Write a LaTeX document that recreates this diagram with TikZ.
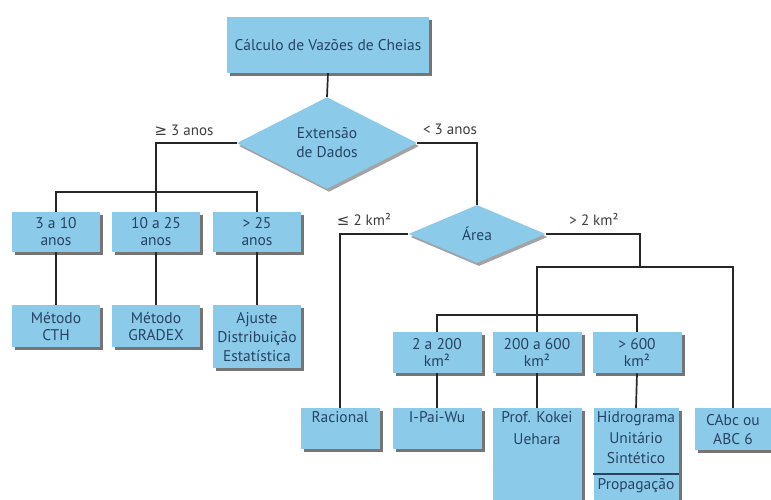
\documentclass[tikz,border=0pt]{standalone}
\usepackage{fontspec}
\setmainfont{PT Sans}
\newfontfamily\symfont{DejaVu Sans}
\usepackage{tikz}
\usetikzlibrary{shapes.geometric,shadows}
\definecolor{boxblue}{RGB}{140,202,234}
\definecolor{txtblue}{RGB}{38,68,98}
\definecolor{lblgray}{RGB}{60,60,60}

\begin{document}
\begin{tikzpicture}[x=1pt, y=-1pt,
  box/.style={rectangle, fill=boxblue, text=txtblue, align=center, inner sep=3pt,
    font=\fontsize{15.5}{17}\selectfont,
    drop shadow={shadow xshift=3pt, shadow yshift=-3pt, fill=black!60, opacity=.9}},
  decision/.style={diamond, fill=boxblue, text=txtblue, align=center, inner sep=0pt,
    font=\fontsize{15.5}{19}\selectfont,
    drop shadow={shadow xshift=2pt, shadow yshift=-3pt, fill=black!45, opacity=.8}},
  lbl/.style={text=lblgray, font=\fontsize{15}{17}\selectfont},
  link/.style={draw=black!85, line width=1.7pt}]

\useasboundingbox (0,0) rectangle (771,500);

% topo
\node[box, minimum width=202pt, minimum height=56pt] (calc) at (328,45) {Cálculo de Vazões de Cheias};
\node[decision, minimum width=180pt, minimum height=77pt] (ext) at (327,143) {Extensão\\de Dados};

% ramo >= 3 anos
\node[box, minimum width=88pt, minimum height=40pt] (a3a10) at (56,232) {3 a 10\\anos};
\node[box, minimum width=88pt, minimum height=40pt] (a10a25) at (156,232) {10 a 25\\anos};
\node[box, minimum width=88pt, minimum height=40pt] (amais25) at (257,232) {> 25\\anos};

\node[box, minimum width=88pt, minimum height=42pt, anchor=north] (cth) at (56,305) {Método\\CTH};
\node[box, minimum width=88pt, minimum height=42pt, anchor=north] (gradex) at (156,305) {Método\\GRADEX};
\node[box, minimum width=88pt, minimum height=63pt, anchor=north] (ajuste) at (257,305) {Ajuste\\[2pt]Distribuição\\[2pt]Estatística};

% ramo < 3 anos
\node[decision, minimum width=137pt, minimum height=58pt] (area) at (477,234) {Área};

\node[box, minimum width=89pt, minimum height=41pt, anchor=north] (a2a200) at (437,332) {2 a 200\\km²};
\node[box, minimum width=89pt, minimum height=41pt, anchor=north] (a200a600) at (537,332) {200 a 600\\km²};
\node[box, minimum width=89pt, minimum height=41pt, anchor=north] (amais600) at (637,332) {> 600\\km²};

\node[box, minimum width=79pt, text depth=24pt, anchor=north] (racional) at (340,408) {Racional};
\node[box, minimum width=89pt, text depth=24pt, anchor=north] (ipaiwu) at (437,408) {I-Pai-Wu};
\node[box, minimum width=89pt, text depth=75pt, anchor=north] (kokei) at (537,408) {Prof. Kokei\\[5pt]Uehara};
\node[box, minimum width=85pt, text depth=30pt, anchor=north] (hidro) at (636,408) {Hidrograma\\[4pt]Unitário\\[3pt]Sintético\\[9pt]Propagação};
\node[box, minimum width=77pt, minimum height=42pt, anchor=north] (cabc) at (733,408) {CAbc ou\\[2pt]ABC 6};

\coordinate (sep) at (636,474);
\draw[txtblue, line width=1.3pt] (hidro.west |- sep) -- (hidro.east |- sep);

% ligacoes
\coordinate (barL) at (156,192);
\coordinate (barR) at (640,267);
\coordinate (barM) at (537,315);

\draw[link] (calc.south) -- (ext.north);
\draw[link] (ext.west) -| (barL);
\draw[link] (a3a10.north) |- (barL) -| (amais25.north);
\draw[link] (barL) -- (a10a25.north);
\draw[link] (a3a10.south) -- (cth.north);
\draw[link] (a10a25.south) -- (gradex.north);
\draw[link] (amais25.south) -- (ajuste.north);

\draw[link] (ext.east) -| (area.north);
\draw[link] (area.west) -| (racional.north);
\draw[link] (area.east) -| (barR);
\draw[link] (barM) |- (barR) -| (cabc.north);
\draw[link] (a2a200.north) |- (barM) -| (amais600.north);
\draw[link] (barM) -- (a200a600.north);
\draw[link] (a2a200.south) -- (ipaiwu.north);
\draw[link] (a200a600.south) -- (kokei.north);
\draw[link] (amais600.south) -- (hidro.north);

% rotulos
\node[lbl] (lmaior) at (184,130) {{\symfont ≥} 3 anos};
\node[lbl] (lmenor) at (450,129) {< 3 anos};
\node[lbl] (lmenorarea) at (364,219) {{\symfont ≤} 2 km²};
\node[lbl] (lmaiorarea) at (594,219) {> 2 km²};
\end{tikzpicture}
\end{document}
